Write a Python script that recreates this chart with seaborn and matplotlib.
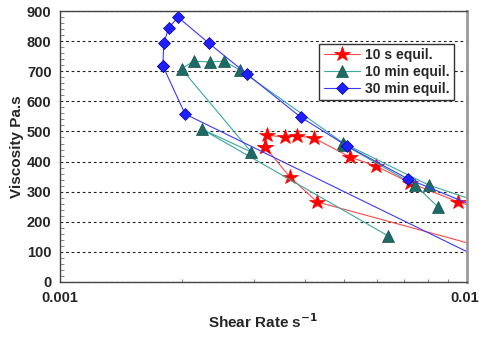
import pandas as pd
import matplotlib
matplotlib.use("Agg")
import matplotlib.pyplot as plt
import seaborn as sns
from matplotlib.lines import Line2D
from matplotlib.ticker import MultipleLocator, FixedLocator, NullFormatter
from matplotlib.transforms import ScaledTranslation

# 10 s equil. - loop; the points past 0.01 only show as lines leaving the frame
rate_10s = [0.00319, 0.00323, 0.00357, 0.00383, 0.00421, 0.00516, 0.00598,
            0.00725, 0.0095, 0.012, 0.02, 0.00428, 0.00367, 0.00319]
visc_10s = [449, 487, 482, 485, 478, 415, 385, 329, 266, 225, 19, 266, 349, 449]

# 10 min equil. - two runs
rate_10min = [0.0064, 0.00223, 0.00295, 0.00199, 0.00213, 0.00234, 0.00253,
              0.00277, 0.00496, 0.00805, 0.012, 0.0050, 0.00745, 0.00849]
visc_10min = [153, 508, 432, 708, 734, 731, 734, 704, 462, 322, 243, 455, 322, 249]
run_10min = [1, 1, 1, 1, 1, 1, 1, 1, 1, 1, 1, 2, 2, 2]

# 30 min equil.
rate_30min = [0.00179, 0.0018, 0.00185, 0.00195, 0.00232, 0.00288, 0.0039,
              0.00507, 0.00717, 0.012, 0.012, 0.00203, 0.00179]
visc_30min = [718, 794, 844, 880, 794, 691, 548, 452, 342, 218, 48, 558, 718]

labels = ["10 s equil.", "10 min equil.", "30 min equil."]

df_10s = pd.DataFrame({"rate": rate_10s, "visc": visc_10s, "run": 1})
df_10min = pd.DataFrame({"rate": rate_10min, "visc": visc_10min, "run": run_10min})
df_30min = pd.DataFrame({"rate": rate_30min, "visc": visc_30min, "run": 1})

STYLES = [
    dict(color="#ff4a4a", marker="*", markersize=11.5, markerfacecolor="#ff0000",
         markeredgecolor="#ff0000", markeredgewidth=0.5, linewidth=0.8),
    dict(color="#3aa8a0", marker="^", markersize=8, markerfacecolor="#1e6a65",
         markeredgecolor="#0f4f4b", markeredgewidth=0.5, linewidth=0.8),
    dict(color="#3a3aff", marker="D", markersize=6.5, markerfacecolor="#1f1fff",
         markeredgecolor="#0000b0", markeredgewidth=0.5, linewidth=0.8),
]

sns.set_style("white")
plt.rcParams["font.family"] = ["Liberation Sans", "DejaVu Sans"]
plt.rcParams["font.weight"] = "bold"
plt.rcParams["mathtext.default"] = "bf"

fig = plt.figure(figsize=(4.79, 3.38), dpi=100)
ax = fig.add_axes([0.125, 0.166, 0.85, 0.801])
ax.set_xscale("log")

for df, st in zip([df_10s, df_10min, df_30min], STYLES):
    sns.lineplot(data=df, x="rate", y="visc", units="run", estimator=None,
                 sort=False, legend=False, ax=ax, **st)

ax.set_xlim(0.001, 0.01)
ax.set_ylim(0, 900)

ax.yaxis.set_major_locator(MultipleLocator(100))
ax.yaxis.set_minor_locator(MultipleLocator(20))
ax.set_xticks([0.001, 0.01], labels=["0.001", "0.01"])
ax.xaxis.set_minor_locator(FixedLocator([k * 0.001 for k in range(2, 10)]))
ax.xaxis.set_minor_formatter(NullFormatter())

ax.tick_params(axis="y", which="major", direction="in", length=5, width=0.8,
               color="#555555", labelsize=10.5, pad=6)
ax.tick_params(axis="y", which="minor", direction="in", length=3, width=0.6,
               color="#777777", left=True)
ax.tick_params(axis="x", which="major", direction="in", length=3, width=0.8,
               color="#777777", labelsize=10.5, pad=6.5)
ax.tick_params(axis="x", which="minor", direction="in", length=2.5, width=0.8,
               color="#888888", bottom=True)

# keep "0.01" inside the canvas
last = ax.get_xticklabels()[-1]
last.set_transform(last.get_transform() + ScaledTranslation(-2.5 / 100, 0, fig.dpi_scale_trans))

ax.set_axisbelow(True)
ax.yaxis.grid(True, which="major", linestyle=(0, (2.5, 2.5)), color="#222222",
              linewidth=0.8)

for side in ["left", "bottom", "top"]:
    ax.spines[side].set_color("#444444")
    ax.spines[side].set_linewidth(1.0)
ax.spines["right"].set_color("#999999")
ax.spines["right"].set_linewidth(2.0)

ax.set_xlabel(r"Shear Rate s$^{-1}$", fontsize=11, fontweight="bold")
ax.set_ylabel("Viscosity Pa.s", fontsize=11, fontweight="bold")
ax.xaxis.set_label_coords(0.5, -0.112)
ax.yaxis.set_label_coords(-0.088, 0.5)

handles = [Line2D([0], [0], **st) for st in STYLES]
leg = ax.legend(handles, labels, loc="upper right", bbox_to_anchor=(0.968, 0.878),
                fancybox=False, framealpha=1, edgecolor="#333333",
                prop={"weight": "bold", "size": 10}, labelspacing=0.2,
                borderpad=0.3, handlelength=2.6, handletextpad=0.4,
                borderaxespad=0)
leg.get_frame().set_linewidth(1.0)

fig.savefig("out.png", dpi=100)
